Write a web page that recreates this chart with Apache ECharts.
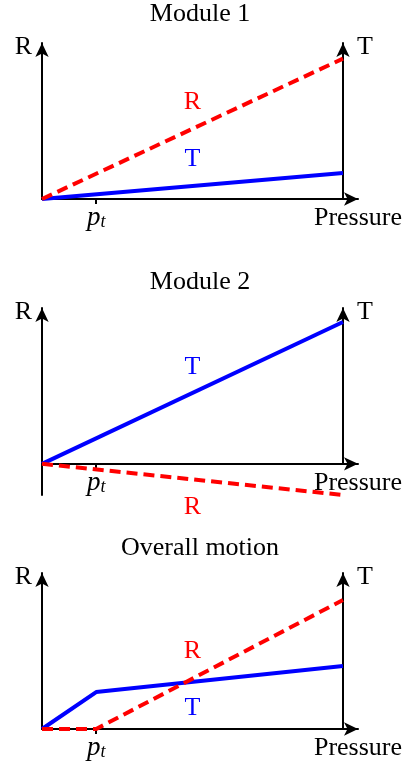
<!DOCTYPE html>
<html>
<head>
<meta charset="utf-8">
<script src="https://cdn.jsdelivr.net/npm/echarts@6/dist/echarts.min.js"></script>
<style>
html, body { margin: 0; padding: 0; background: #fff; }
#chart { width: 407px; height: 764px; }
</style>
</head>
<body>
<div id="chart"></div>
<script>
// pressure axis (arbitrary units), transition pressure p_t
const pressureAxisMax = 10.5
const pt = 1.8

const module1X = [0, 10]
const module1R = [0, 9.0]
const module1T = [0, 1.67]

const module2X = [0, 10]
const module2R = [0, -2.0]
const module2T = [0, 9.1]

const overallX = [0, 1.8, 10]
const overallR = [0, 0, 8.27]
const overallT = [0, 2.37, 4.04]

const titles = ['Module 1', 'Module 2', 'Overall motion']
const yMin = [0, -2, 0]
const yMax = [10, 10, 10]
// in-plot R / T labels, [pressure, value]; module 2's R sits below the axis minimum
const rLabelAt = [[5, 6.2], [5, -2.0], [5, 5.0]]
const tLabelAt = [[5, 2.56], [5, 6.2], [5, 1.35]]
const rLabelShift = [0, 12, 0]

const panels = [
	{ x: module1X, r: module1R, t: module1T },
	{ x: module2X, r: module2R, t: module2T },
	{ x: overallX, r: overallR, t: overallT }
]

const FONT = 'Liberation Serif'
const RED = '#ff0000'
const BLUE = '#0000ff'

// layout
const gridLeft = 42
const gridWidth = 316
const gridTop = [43, 308, 573]
const gridHeight = [156, 187, 156]
const titleTop = [1, 269, 535]
const arrow = [10, 14]

const grid = []
const xAxis = []
const yAxis = []
const series = []
const title = []

const axisLine = {
	show: true,
	onZero: false,
	lineStyle: { color: '#000', width: 2 },
	symbol: ['none', 'arrow'],
	symbolSize: arrow
}

panels.forEach((p, i) => {
	// full grid carries the left axis (down to yMin) and the lines, top grid ends at zero
	const full = i * 2
	const top = i * 2 + 1
	const zeroH = (gridHeight[i] * yMax[i]) / (yMax[i] - yMin[i])

	title.push({
		text: titles[i],
		left: 200,
		textAlign: 'center',
		top: titleTop[i],
		padding: 0,
		textStyle: { fontFamily: FONT, fontSize: 26, fontWeight: 'normal', color: '#000' }
	})

	grid.push({ left: gridLeft, width: gridWidth, top: gridTop[i], height: gridHeight[i] })
	grid.push({ left: gridLeft, width: gridWidth, top: gridTop[i], height: zeroH })

	xAxis.push({ type: 'value', gridIndex: full, min: 0, max: pressureAxisMax, show: false })
	xAxis.push({
		type: 'value',
		gridIndex: top,
		min: 0,
		max: pressureAxisMax,
		z: i === 1 ? 3 : 0,
		splitLine: { show: false },
		axisLine: axisLine,
		axisTick: {
			customValues: [pt],
			length: 5,
			lineStyle: { color: '#000', width: 2 }
		},
		axisLabel: {
			customValues: [pt, pressureAxisMax],
			margin: 6,
			formatter: v => (Math.abs(v - pt) < 1e-6 ? '{p|p}{t|t}' : '{n|Pressure}'),
			rich: {
				p: { fontFamily: FONT, fontStyle: 'italic', fontSize: 27, lineHeight: 26, color: '#000' },
				t: { fontFamily: FONT, fontStyle: 'italic', fontSize: 18, lineHeight: 10, verticalAlign: 'bottom', color: '#000' },
				n: { fontFamily: FONT, fontSize: 26, lineHeight: 26, color: '#000', backgroundColor: '#fff' }
			}
		}
	})

	yAxis.push({
		type: 'value',
		gridIndex: full,
		min: yMin[i],
		max: yMax[i],
		name: 'R',
		nameLocation: 'end',
		nameGap: -4,
		nameTextStyle: {
			fontFamily: FONT, fontSize: 26, color: '#000',
			align: 'right', verticalAlign: 'middle', padding: [0, 10, 0, 0]
		},
		splitLine: { show: false },
		axisTick: { show: false },
		axisLabel: { show: false },
		axisLine: axisLine
	})
	yAxis.push({
		type: 'value',
		gridIndex: top,
		position: 'right',
		offset: -15,
		min: 0,
		max: yMax[i],
		name: 'T',
		nameLocation: 'end',
		nameGap: -4,
		nameTextStyle: {
			fontFamily: FONT, fontSize: 26, color: '#000',
			align: 'left', verticalAlign: 'middle', padding: [0, 0, 0, 14]
		},
		splitLine: { show: false },
		axisTick: { show: false },
		axisLabel: { show: false },
		axisLine: axisLine
	})

	const inPlot = (text, color, coord, shift) => ({
		symbol: 'circle',
		symbolSize: 1,
		silent: true,
		itemStyle: { color: 'rgba(0,0,0,0)' },
		label: {
			show: true, position: 'inside', offset: [0, shift || 0],
			fontFamily: FONT, fontSize: 26, color: color, formatter: text
		},
		data: [{ coord: coord }]
	})

	series.push({
		type: 'line',
		xAxisIndex: full,
		yAxisIndex: full,
		data: p.x.map((x, k) => [x, p.t[k]]),
		symbol: 'none',
		clip: false,
		lineStyle: { color: BLUE, width: 4, cap: 'butt' },
		markPoint: inPlot('T', BLUE, tLabelAt[i], 0)
	})
	series.push({
		type: 'line',
		xAxisIndex: full,
		yAxisIndex: full,
		data: p.x.map((x, k) => [x, p.r[k]]),
		symbol: 'none',
		clip: false,
		lineStyle: { color: RED, width: 4, type: [11, 6], cap: 'butt' },
		markPoint: inPlot('R', RED, rLabelAt[i], rLabelShift[i])
	})
})

const chart = echarts.init(document.getElementById('chart'), null, { renderer: 'canvas' })
chart.setOption({
	animation: false,
	backgroundColor: '#fff',
	title: title,
	grid: grid,
	xAxis: xAxis,
	yAxis: yAxis,
	series: series
})
</script>
</body>
</html>
